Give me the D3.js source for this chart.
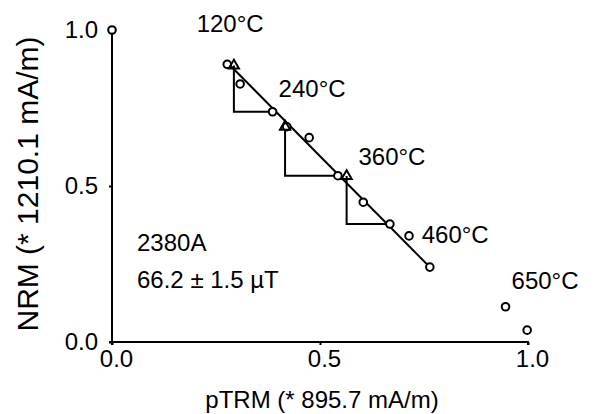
<!DOCTYPE html>
<html><head><meta charset="utf-8">
<script src="https://cdn.jsdelivr.net/npm/d3@7"></script>
<style>
html,body{margin:0;padding:0;background:#fff;}
text{font-family:"Liberation Sans",Arial,sans-serif;fill:#000;}
</style></head>
<body>
<svg id="c" width="606" height="414"></svg>
<script>
// Arai plot data (normalised)
const ptrm = [0.000, 0.277, 0.308, 0.386, 0.420, 0.474, 0.543, 0.604, 0.668, 0.714, 0.764, 0.946, 0.998];
const nrm  = [1.000, 0.890, 0.827, 0.738, 0.690, 0.655, 0.533, 0.448, 0.378, 0.340, 0.240, 0.113, 0.038];
// pTRM checks: x, y, and index of step whose point ends the check lines
const checkX   = [0.293, 0.416, 0.564];
const checkY   = [0.886, 0.690, 0.532];
const checkRef = [3, 6, 8];
// best-fit line endpoints
const fitX = [0.286, 0.764];
const fitY = [0.884, 0.240];
const tempLabels = ["120°C", "240°C", "360°C", "460°C", "650°C"];
const xTicks = [0, 0.5, 1.0];
const yTicks = [0, 0.5, 1.0];
const xLabel = "pTRM (* 895.7 mA/m)";
const yLabel = "NRM (* 1210.1 mA/m)";
const sampleName = "2380A";
const intensity = "66.2 ± 1.5 µT";

const svg = d3.select("#c");
const x = d3.scaleLinear().domain([0, 1]).range([112, 528]);
const y = d3.scaleLinear().domain([0, 1]).range([342, 30]);
const FS = 24;

// axes
const xAxis = d3.axisBottom(x).tickValues(xTicks).tickFormat(d3.format(".1f")).tickSize(3).tickPadding(5);
const yAxis = d3.axisLeft(y).tickValues(yTicks).tickFormat(d3.format(".1f")).tickSize(3).tickPadding(11);
const gx = svg.append("g").attr("transform", "translate(0,342)").call(xAxis);
const gy = svg.append("g").attr("transform", "translate(112,0)").call(yAxis);
[gx, gy].forEach(g => {
  g.select(".domain").attr("stroke", "#000").attr("stroke-width", 2);
  g.selectAll(".tick line").attr("stroke", "#000").attr("stroke-width", 2);
  g.selectAll(".tick text").attr("font-size", FS).attr("font-family", "Liberation Sans, Arial, sans-serif").attr("fill", "#000");
});
gx.select(".domain").attr("d", `M${x(0)-3},0H${x(1)}V3`);
gy.select(".domain").attr("d", `M0,${y(0)+3}V${y(1)}`);
gx.selectAll(".tick text").attr("dx", 4);

// check lines
checkX.forEach((cx, i) => {
  const r = checkRef[i];
  svg.append("path")
    .attr("d", `M${x(cx)},${y(checkY[i])}V${y(nrm[r])}H${x(ptrm[r])}`)
    .attr("fill", "none").attr("stroke", "#000").attr("stroke-width", 2);
});
// fit line
svg.append("line")
  .attr("x1", x(fitX[0])).attr("y1", y(fitY[0]))
  .attr("x2", x(fitX[1])).attr("y2", y(fitY[1]))
  .attr("stroke", "#000").attr("stroke-width", 2);

// points
svg.selectAll("circle.pt").data(ptrm).enter().append("circle")
  .attr("class", "pt")
  .attr("cx", d => x(d)).attr("cy", (d, i) => y(nrm[i]))
  .attr("r", 3.8).attr("fill", "#fff").attr("stroke", "#000").attr("stroke-width", 2);
// triangles
const tri = d3.symbol().type(d3.symbolTriangle).size(45);
svg.selectAll("path.tri").data(checkX).enter().append("path")
  .attr("class", "tri")
  .attr("transform", (d, i) => `translate(${x(d)},${y(checkY[i])})`)
  .attr("d", tri).attr("fill", "none").attr("stroke", "#000").attr("stroke-width", 2);

// temperature labels (anchored in data units)
const labelAnchor = [[0.284, 1.022], [0.481, 0.814], [0.673, 0.596], [0.825, 0.343], [1.041, 0.197]];
tempLabels.forEach((t, i) => {
  svg.append("text").attr("x", x(labelAnchor[i][0])).attr("y", y(labelAnchor[i][1]))
    .attr("text-anchor", "middle").attr("dominant-baseline", "central")
    .attr("font-size", FS).text(t);
});
svg.append("text").attr("x", 137).attr("y", 242).attr("dominant-baseline", "central").attr("font-size", FS).text(sampleName);
svg.append("text").attr("x", 137).attr("y", 279).attr("dominant-baseline", "central").attr("font-size", FS).text(intensity);

svg.append("text").attr("x", 322).attr("y", 399).attr("text-anchor", "middle").attr("dominant-baseline", "central")
  .attr("font-size", FS).text(xLabel);
svg.append("text").attr("transform", "translate(27,184) rotate(-90)").attr("text-anchor", "middle")
  .attr("dominant-baseline", "central").attr("font-size", 30).text(yLabel);
</script>
</body></html>
